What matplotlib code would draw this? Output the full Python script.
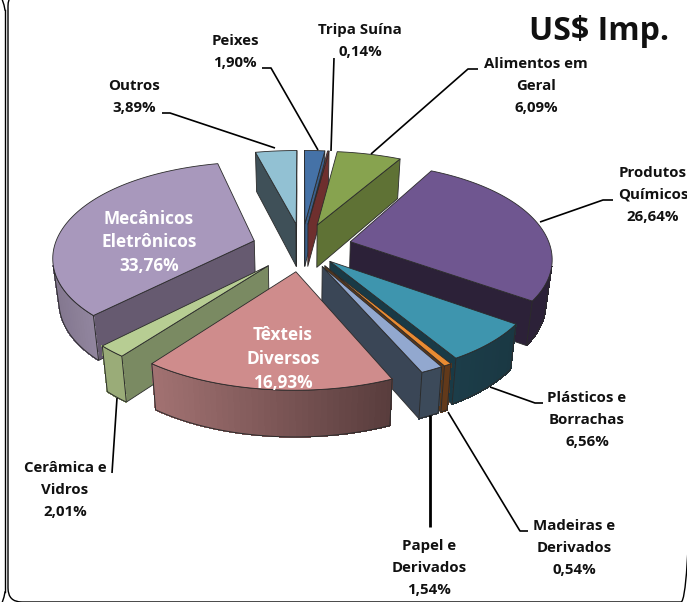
import numpy as np
import matplotlib
matplotlib.use("Agg")
import matplotlib.pyplot as plt
from matplotlib.patches import Polygon, FancyBboxPatch

# === 1. Data ===
categories = ["Peixes", "Tripa Suína", "Alimentos em\nGeral", "Produtos\nQuímicos",
              "Plásticos e\nBorrachas", "Madeiras e\nDerivados", "Papel e\nDerivados",
              "Têxteis\nDiversos", "Cerâmica e\nVidros", "Mecânicos\nEletrônicos", "Outros"]
values = [1.90, 0.14, 6.09, 26.64, 6.56, 0.54, 1.54, 16.93, 2.01, 33.76, 3.89]

# === 2. Style ===
top_colors = ["#4572a7", "#8c3b3a", "#87a34f", "#6f5690", "#3e95ae", "#e98b32",
              "#92a8cf", "#cf8c8c", "#b7cd93", "#a898bc", "#92c1d3"]
cut_colors = ["#3a5f8a", "#6e2f2e", "#5f7235", "#2c2138", "#193a46", "#5a3719",
              "#3a4656", "#5f4040", "#7a8a62", "#665a70", "#3f5058"]
arc_left = ["#3a5f8a", "#6e2f2e", "#5f7235", "#2c2138", "#1c3d49", "#62391a",
            "#3c4a5a", "#a27272", "#9aac78", "#83778f", "#3f5058"]
arc_right = ["#3a5f8a", "#6e2f2e", "#5f7235", "#2c2138", "#1a3843", "#62391a",
             "#3c4a5a", "#583c3c", "#9aac78", "#92869f", "#3f5058"]
draw_order = [10, 0, 1, 2, 9, 3, 4, 5, 6, 8, 7]
edge = "#2b2b2b"
explode = [0.25, 0.25, 0.25, 0.25, 0.20, 0.22, 0.22, 0.25, 0.25, 0.25, 0.25]
cx, cy = 302, 247

# label text anchor (centre x, first line y), white labels sit on the slice
label_pos = [(235, 40), (360, 29), (536, 63), (653, 172), (587, 397), (574, 525),
             (429, 545), (283, 333), (65, 467), (149, 216), (134, 85)]
leaders = [[(262, 68), (271, 68), (318, 150)],
           [(334, 58), (331, 151)],
           [(478, 69), (468, 69), (371, 154)],
           [(613, 200), (603, 200), (540, 222)],
           [(543, 403), (535, 403), (490, 387)],
           [(528, 531), (520, 531), (448, 412)],
           [(430, 415), (430, 527)],
           None,
           [(112, 473), (117, 398)],
           None,
           [(162, 113), (170, 113), (275, 148)]]


# === 3. Pie plane -> picture ===
def project(u, v, low=False):
    x = cx + u * (200 - 30 * v + 5 * v * v)
    y = cy - v * (96 - 15 * v)
    if low:
        x = cx + (x - cx) * 0.975
        y = y + 43 - 3 * v
    return x, y


def mix(c1, c2, t):
    a = np.array(matplotlib.colors.to_rgb(c1))
    b = np.array(matplotlib.colors.to_rgb(c2))
    return tuple(a + (b - a) * t)


def area(q):
    return sum(q[i][0] * q[(i + 1) % 4][1] - q[(i + 1) % 4][0] * q[i][1] for i in range(4))


fig = plt.figure(figsize=(6.87, 6.02), dpi=100)
ax = fig.add_axes([0, 0, 1, 1])
ax.set_xlim(0, 687)
ax.set_ylim(602, 0)
ax.axis("off")
plt.rcParams["font.family"] = ["Open Sans", "DejaVu Sans"]

# === 4. Frame ===
ax.add_patch(FancyBboxPatch((8, -8), 687, 610, boxstyle="round,pad=0,rounding_size=14",
                            fc="none", ec="black", lw=1.0))
ax.plot([5, 5], [10, 592], color="black", lw=1.0)
ax.plot([5, 4, 2], [10, 5, -1], color="black", lw=1.0)
ax.plot([5, 4, 2], [592, 597, 603], color="black", lw=1.0)

# === 5. Slices ===
edges = np.cumsum([0] + values) / sum(values) * 2 * np.pi
for i in draw_order:
    a1, a2 = edges[i], edges[i + 1]
    mid = (a1 + a2) / 2
    ou, ov = explode[i] * np.sin(mid), explode[i] * np.cos(mid)
    th = np.linspace(a1, a2, max(int((a2 - a1) * 40), 2))
    us = np.r_[ou, ou + np.sin(th), ou]
    vs = np.r_[ov, ov + np.cos(th), ov]
    top = [project(u, v) for u, v in zip(us, vs)]
    low = [project(u, v, True) for u, v in zip(us, vs)]
    n = len(top) - 1

    # straight cuts first
    for k in (0, n - 1):
        q = [top[k], top[k + 1], low[k + 1], low[k]]
        if area(q) < 0:
            ax.add_patch(Polygon(q, fc=cut_colors[i], ec=edge, lw=0.6, joinstyle="round"))

    # curved wall in small strips so the shading can run across it
    strips = [k for k in range(1, n - 1)
              if area([top[k], top[k + 1], low[k + 1], low[k]]) < 0]
    if strips:
        xs = [top[k][0] for k in strips] + [top[strips[-1] + 1][0]]
        x0, x1 = min(xs), max(xs)
        for k in strips:
            q = [top[k], top[k + 1], low[k + 1], low[k]]
            t = ((top[k][0] + top[k + 1][0]) / 2 - x0) / max(x1 - x0, 1)
            col = mix(arc_left[i], arc_right[i], t)
            ax.add_patch(Polygon(q, fc=col, ec=col, lw=0.5, antialiased=False))
        first, last = strips[0], strips[-1] + 1
        outline = top[first:last + 1] + low[first:last + 1][::-1]
        ax.add_patch(Polygon(outline, fc="none", ec=edge, lw=0.7))

    ax.add_patch(Polygon(top, fc=top_colors[i], ec=edge, lw=0.6, joinstyle="round"))

# === 6. Labels ===
for i, name in enumerate(categories):
    text = name + "\n" + f"{values[i]:.2f}".replace(".", ",") + "%"
    inside = leaders[i] is None
    ax.text(label_pos[i][0], label_pos[i][1] - (6.5 if inside else 6), text, ha="center", va="top",
            color="white" if inside else "#111111", fontweight="bold",
            fontsize=12.4 if inside else 10.8, linespacing=1.4 if inside else 1.72)
    if not inside:
        xs, ys = zip(*leaders[i])
        ax.plot(xs, ys, color="black", lw=2.0 if i == 6 else 1.2, solid_capstyle="butt")

ax.text(599, 32, "US$ Imp.", ha="center", va="center", color="#111111",
        fontweight="bold", fontsize=23)

fig.savefig("out.png", dpi=100)
